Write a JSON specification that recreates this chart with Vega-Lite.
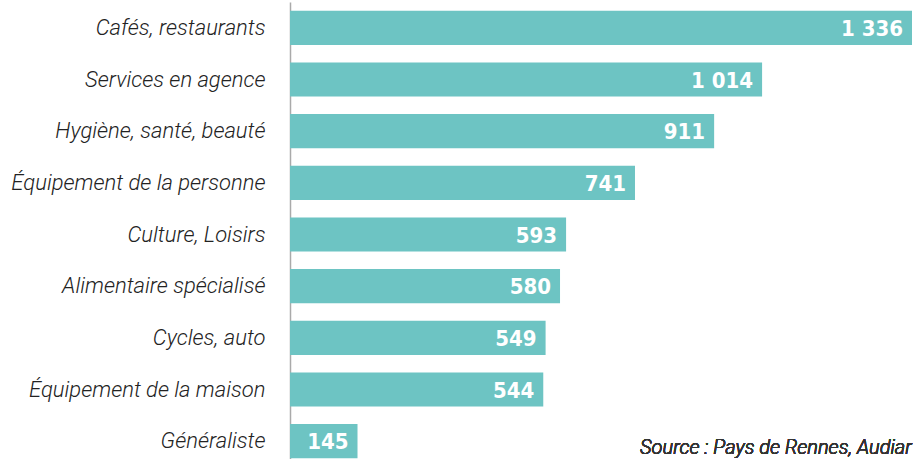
{
  "$schema": "https://vega.github.io/schema/vega-lite/v6.json",
  "autosize": "none",
  "width": 622,
  "height": 465,
  "padding": {"left": 290, "top": 2, "right": 4, "bottom": 0},
  "background": "white",
  "config": {"view": {"stroke": null}},
  "data": {
    "values": [
      {"cat": "Cafés, restaurants", "val": 1336, "lab": "1 336"},
      {"cat": "Services en agence", "val": 1014, "lab": "1 014"},
      {"cat": "Hygiène, santé, beauté", "val": 911, "lab": "911"},
      {"cat": "Équipement de la personne", "val": 741, "lab": "741"},
      {"cat": "Culture, Loisirs", "val": 593, "lab": "593"},
      {"cat": "Alimentaire spécialisé", "val": 580, "lab": "580"},
      {"cat": "Cycles, auto", "val": 549, "lab": "549"},
      {"cat": "Équipement de la maison", "val": 544, "lab": "544"},
      {"cat": "Généraliste", "val": 145, "lab": "145"}
    ]
  },
  "encoding": {
    "y": {
      "field": "cat",
      "type": "nominal",
      "sort": null,
      "scale": {"paddingInner": 0.34, "paddingOuter": 0.17},
      "axis": {
        "title": null,
        "ticks": false,
        "domain": true,
        "domainColor": "#aaaaaa",
        "domainWidth": 1.5,
        "labelFont": "Roboto",
        "labelFontStyle": "italic",
        "labelFontWeight": 300,
        "labelFontSize": 22,
        "labelColor": "#222222",
        "labelPadding": 25,
        "labelLimit": 300
      }
    },
    "x": {
      "field": "val",
      "type": "quantitative",
      "scale": {"domain": [0, 1336], "nice": false, "zero": true},
      "axis": null
    }
  },
  "layer": [
    {"mark": {"type": "bar", "color": "#6dc4c3"}},
    {
      "mark": {
        "type": "text",
        "align": "right",
        "baseline": "middle",
        "dx": -9,
        "dy": 1,
        "color": "white",
        "font": "DejaVu Sans Condensed, Roboto, sans-serif",
        "fontWeight": "bold",
        "fontSize": 22
      },
      "encoding": {"text": {"field": "lab"}}
    },
    {
      "mark": {
        "type": "text",
        "text": "Source : Pays de Rennes, Audiar",
        "align": "left",
        "baseline": "alphabetic",
        "dy": 13,
        "color": "#333333",
        "font": "Roboto",
        "fontStyle": "italic",
        "fontWeight": 300,
        "fontSize": 20
      },
      "encoding": {
        "x": {"datum": 752},
        "y": {"datum": "Généraliste"}
      }
    }
  ]
}
